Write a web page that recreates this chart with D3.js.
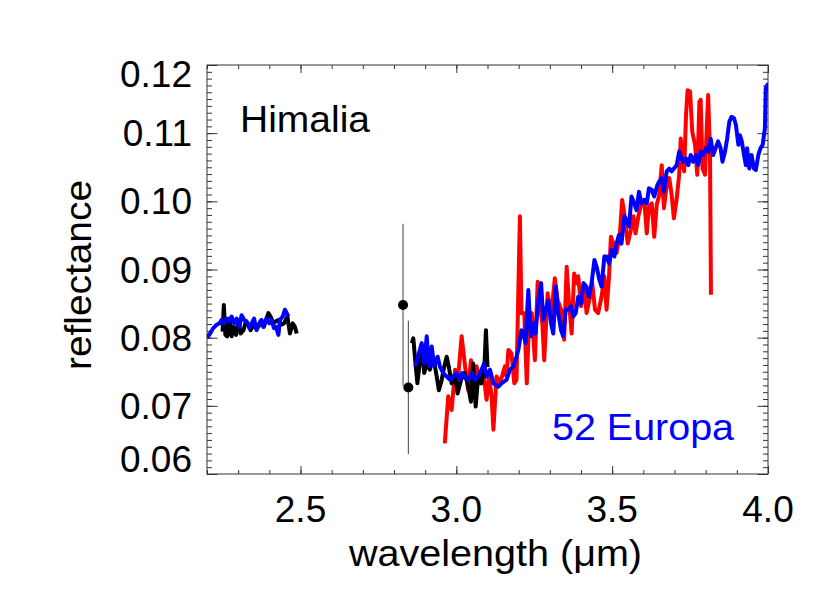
<!DOCTYPE html>
<html>
<head>
<meta charset="utf-8">
<script src="https://cdn.jsdelivr.net/npm/d3@7"></script>
<style>
  body { margin: 0; background: #fff; }
  text { font-family: "Liberation Sans", Arial, Helvetica, sans-serif; }
</style>
</head>
<body>
<svg width="830" height="606"></svg>
<script>
// Himalia, K band (black)
var himaliaK = [[2.250,0.0809],[2.254,0.0848],[2.259,0.0804],[2.265,0.0802],[2.272,0.0828],[2.279,0.0802],[2.284,0.0816],[2.293,0.0804],[2.301,0.0826],[2.308,0.0806],[2.317,0.0811],[2.325,0.0824],[2.333,0.0819],[2.340,0.0811],[2.349,0.0821],[2.357,0.0814],[2.365,0.0816],[2.372,0.0824],[2.381,0.0816],[2.389,0.0826],[2.397,0.0836],[2.404,0.0831],[2.413,0.0821],[2.421,0.0824],[2.430,0.0826],[2.438,0.0819],[2.447,0.0821],[2.458,0.0831],[2.466,0.0806],[2.475,0.0821],[2.482,0.0816],[2.488,0.0806]];

// Himalia, L band (black)
var himaliaL = [[2.857,0.0792],[2.862,0.0799],[2.869,0.0762],[2.875,0.0733],[2.881,0.0757],[2.889,0.0789],[2.897,0.0748],[2.905,0.0762],[2.915,0.0753],[2.926,0.0772],[2.937,0.0743],[2.944,0.0723],[2.953,0.0738],[2.961,0.0757],[2.969,0.0772],[2.976,0.0757],[2.985,0.0733],[2.996,0.0743],[3.004,0.0718],[3.015,0.0738],[3.026,0.0748],[3.036,0.0733],[3.047,0.0706],[3.054,0.0762],[3.062,0.0699],[3.070,0.0743],[3.081,0.0733],[3.090,0.0757],[3.095,0.0811],[3.100,0.0757]];

// Himalia photometry points: wavelength, reflectance, error
var himaliaPts = [[2.829,0.0848,0.0119],[2.846,0.0727,0.0098]];

// Himalia, second L spectrum (red)
var himaliaRed = [[2.963,0.0645],[2.974,0.0714],[2.985,0.0694],[2.996,0.0753],[3.004,0.0733],[3.017,0.0802],[3.028,0.0758],[3.038,0.0723],[3.047,0.0767],[3.054,0.0743],[3.065,0.0758],[3.076,0.0733],[3.087,0.0748],[3.097,0.0709],[3.105,0.0743],[3.113,0.0714],[3.119,0.0665],[3.129,0.0743],[3.140,0.0733],[3.156,0.0758],[3.161,0.0743],[3.167,0.0782],[3.177,0.0777],[3.186,0.0733],[3.193,0.0738],[3.204,0.0978],[3.209,0.0836],[3.218,0.0836],[3.226,0.0733],[3.233,0.0821],[3.242,0.0836],[3.252,0.0767],[3.261,0.0882],[3.268,0.0846],[3.276,0.0821],[3.282,0.0767],[3.293,0.0865],[3.304,0.0831],[3.316,0.0887],[3.325,0.0855],[3.336,0.0841],[3.346,0.0797],[3.354,0.0904],[3.361,0.0855],[3.370,0.0806],[3.378,0.0894],[3.386,0.0880],[3.391,0.0890],[3.400,0.0846],[3.411,0.0870],[3.418,0.0836],[3.429,0.0860],[3.436,0.0880],[3.445,0.0841],[3.455,0.0836],[3.466,0.0860],[3.475,0.0890],[3.482,0.0841],[3.490,0.0890],[3.496,0.0948],[3.504,0.0938],[3.514,0.0924],[3.525,0.0953],[3.532,0.1002],[3.539,0.0982],[3.550,0.0938],[3.560,0.0958],[3.568,0.0978],[3.575,0.0953],[3.584,0.0978],[3.594,0.0997],[3.603,0.1002],[3.611,0.0953],[3.618,0.0992],[3.627,0.0997],[3.635,0.0948],[3.643,0.0995],[3.651,0.1009],[3.659,0.1053],[3.666,0.0990],[3.675,0.1024],[3.683,0.1034],[3.691,0.1009],[3.698,0.0975],[3.707,0.1004],[3.715,0.1039],[3.720,0.1092],[3.726,0.1053],[3.731,0.1044],[3.737,0.1127],[3.742,0.1163],[3.750,0.1161],[3.757,0.1102],[3.766,0.1083],[3.773,0.1039],[3.780,0.1146],[3.784,0.1149],[3.790,0.1048],[3.798,0.1039],[3.803,0.1102],[3.808,0.1156],[3.814,0.1068],[3.817,0.0863]];

// 52 Europa, K band (blue)
var europaK = [[2.200,0.0800],[2.210,0.0806],[2.220,0.0814],[2.231,0.0819],[2.240,0.0821],[2.247,0.0826],[2.254,0.0821],[2.263,0.0828],[2.272,0.0824],[2.279,0.0831],[2.287,0.0821],[2.295,0.0828],[2.304,0.0816],[2.311,0.0833],[2.319,0.0826],[2.327,0.0824],[2.336,0.0814],[2.343,0.0821],[2.351,0.0828],[2.359,0.0811],[2.368,0.0821],[2.375,0.0826],[2.383,0.0816],[2.391,0.0828],[2.400,0.0821],[2.407,0.0826],[2.415,0.0814],[2.421,0.0816],[2.429,0.0804],[2.434,0.0826],[2.443,0.0831],[2.450,0.0841],[2.456,0.0836],[2.461,0.0831]];

// 52 Europa, L band (blue)
var europaL = [[2.869,0.0758],[2.883,0.0782],[2.889,0.0792],[2.897,0.0762],[2.905,0.0802],[2.912,0.0758],[2.921,0.0787],[2.929,0.0758],[2.940,0.0772],[2.947,0.0758],[2.958,0.0748],[2.969,0.0743],[2.980,0.0738],[2.990,0.0743],[3.001,0.0748],[3.012,0.0738],[3.019,0.0748],[3.028,0.0743],[3.038,0.0738],[3.051,0.0748],[3.060,0.0738],[3.070,0.0743],[3.081,0.0753],[3.089,0.0762],[3.097,0.0743],[3.108,0.0753],[3.119,0.0733],[3.135,0.0728],[3.145,0.0733],[3.161,0.0738],[3.172,0.0753],[3.183,0.0758],[3.193,0.0772],[3.199,0.0782],[3.209,0.0811],[3.215,0.0806],[3.222,0.0792],[3.231,0.0870],[3.239,0.0802],[3.247,0.0821],[3.254,0.0806],[3.263,0.0855],[3.272,0.0880],[3.279,0.0826],[3.287,0.0841],[3.295,0.0855],[3.304,0.0821],[3.311,0.0806],[3.319,0.0875],[3.327,0.0836],[3.336,0.0811],[3.343,0.0802],[3.351,0.0841],[3.359,0.0841],[3.368,0.0846],[3.375,0.0831],[3.383,0.0836],[3.391,0.0860],[3.400,0.0850],[3.408,0.0880],[3.417,0.0875],[3.425,0.0860],[3.434,0.0880],[3.443,0.0914],[3.450,0.0904],[3.459,0.0885],[3.466,0.0875],[3.475,0.0919],[3.482,0.0919],[3.490,0.0909],[3.498,0.0929],[3.507,0.0919],[3.514,0.0938],[3.522,0.0951],[3.530,0.0938],[3.539,0.0978],[3.546,0.0973],[3.554,0.0963],[3.562,0.1007],[3.571,0.0997],[3.578,0.0987],[3.586,0.1014],[3.594,0.0997],[3.603,0.1002],[3.611,0.0997],[3.618,0.1019],[3.627,0.1017],[3.635,0.1007],[3.645,0.1024],[3.651,0.1029],[3.659,0.1034],[3.666,0.1014],[3.675,0.1044],[3.683,0.1048],[3.691,0.1044],[3.698,0.1048],[3.707,0.1053],[3.715,0.1073],[3.723,0.1063],[3.728,0.1058],[3.737,0.1063],[3.744,0.1053],[3.752,0.1068],[3.760,0.1058],[3.769,0.1068],[3.776,0.1053],[3.784,0.1073],[3.792,0.1068],[3.801,0.1078],[3.808,0.1073],[3.816,0.1092],[3.824,0.1068],[3.832,0.1078],[3.840,0.1088],[3.848,0.1078],[3.854,0.1058],[3.862,0.1073],[3.869,0.1092],[3.876,0.1117],[3.883,0.1124],[3.891,0.1122],[3.897,0.1112],[3.905,0.1083],[3.910,0.1097],[3.916,0.1088],[3.923,0.1068],[3.929,0.1053],[3.933,0.1078],[3.940,0.1048],[3.947,0.1068],[3.955,0.1048],[3.961,0.1046],[3.969,0.1068],[3.976,0.1078],[3.983,0.1083],[3.987,0.1097],[3.990,0.1107],[3.993,0.1166],[3.998,0.1171],[4.000,0.1161]];

var xMajor = [2.5, 3.0, 3.5, 4.0],
    xLabels = ["2.5", "3.0", "3.5", "4.0"],
    yMajor = [0.06, 0.07, 0.08, 0.09, 0.10, 0.11, 0.12],
    yLabels = ["0.06", "0.07", "0.08", "0.09", "0.10", "0.11", "0.12"];

var svg = d3.select("svg"),
    margin = {top: 65, right: 62, bottom: 132, left: 207},
    width = svg.attr("width") - margin.left - margin.right,
    height = svg.attr("height") - margin.top - margin.bottom,
    g = svg.append("g").attr("transform", "translate(" + margin.left + "," + margin.top + ")");

var x = d3.scaleLinear().domain([2.2, 4.0]).range([0, width]),
    y = d3.scaleLinear().domain([0.06, 0.12]).range([height, 0]);

var xMinor = d3.range(22, 41).map(function(d) { return d / 10; }),
    yMinor = d3.range(60, 121).map(function(d) { return d / 1000; });

var line = d3.line()
    .x(function(d) { return x(d[0]); })
    .y(function(d) { return y(d[1]); });

svg.append("defs").append("clipPath").attr("id", "clip")
  .append("rect").attr("width", width).attr("height", height);

var fs = "37px";

// tick marks on all four sides, pointing inward
function ticks(axis, vals, size, tr) {
  var a = g.append("g")
    .attr("transform", tr)
    .call(axis.tickValues(vals).tickSize(size).tickSizeOuter(0).tickFormat(""));
  a.select(".domain").remove();
  a.selectAll("line").attr("stroke", "#333");
  return a;
}
ticks(d3.axisBottom(x), xMinor, -4, "translate(0," + height + ")");
ticks(d3.axisBottom(x), xMajor, -8, "translate(0," + height + ")");
ticks(d3.axisTop(x), xMinor, -4, "translate(0,0)");
ticks(d3.axisTop(x), xMajor, -8, "translate(0,0)");
ticks(d3.axisLeft(y), yMinor, -5, "translate(0,0)");
ticks(d3.axisLeft(y), yMajor, -10.5, "translate(0,0)");
ticks(d3.axisRight(y), yMinor, -5, "translate(" + width + ",0)");
ticks(d3.axisRight(y), yMajor, -10.5, "translate(" + width + ",0)");

g.append("rect")
    .attr("width", width)
    .attr("height", height)
    .attr("fill", "none")
    .attr("stroke", "#333")
    .attr("stroke-width", 1);

// tick labels
g.selectAll(".xl")
  .data(xMajor)
  .enter().append("text")
    .attr("x", function(d) { return x(d); })
    .attr("y", height + 48)
    .attr("text-anchor", "middle")
    .style("font-size", fs)
    .text(function(d, i) { return xLabels[i]; });

g.selectAll(".yl")
  .data(yMajor)
  .enter().append("text")
    .attr("x", -15)
    .attr("y", function(d, i) {
      var off = 13;
      if (i == 0) off = -2;
      if (i == yMajor.length - 1) off = 22;
      return y(d) + off;
    })
    .attr("text-anchor", "end")
    .style("font-size", fs)
    .text(function(d, i) { return yLabels[i]; });

// axis titles
svg.append("text")
    .attr("x", 349)
    .attr("y", 566)
    .attr("textLength", 293)
    .attr("lengthAdjust", "spacingAndGlyphs")
    .style("font-size", fs)
    .text("wavelength (\u03bcm)");

svg.append("text")
    .attr("transform", "translate(91,370) rotate(-90)")
    .attr("textLength", 190)
    .attr("lengthAdjust", "spacingAndGlyphs")
    .style("font-size", fs)
    .text("reflectance");

// spectra
var plot = g.append("g").attr("clip-path", "url(#clip)");

plot.append("path")
    .datum(himaliaRed)
    .attr("fill", "none")
    .attr("stroke", "#ff0000")
    .attr("stroke-width", 4)
    .attr("stroke-linejoin", "round")
    .attr("d", line);

[himaliaK, himaliaL].forEach(function(s) {
  plot.append("path")
      .datum(s)
      .attr("fill", "none")
      .attr("stroke", "#000")
      .attr("stroke-width", 4)
      .attr("stroke-linejoin", "round")
      .attr("d", line);
});

[europaK, europaL].forEach(function(s) {
  plot.append("path")
      .datum(s)
      .attr("fill", "none")
      .attr("stroke", "#0000ff")
      .attr("stroke-width", 4)
      .attr("stroke-linejoin", "round")
      .attr("d", line);
});

// photometry with error bars
plot.selectAll(".err")
  .data(himaliaPts)
  .enter().append("line")
    .attr("x1", function(d) { return x(d[0]); })
    .attr("x2", function(d) { return x(d[0]); })
    .attr("y1", function(d) { return y(d[1] - d[2]); })
    .attr("y2", function(d) { return y(d[1] + d[2]); })
    .attr("stroke", "#444")
    .attr("stroke-width", 1);

plot.selectAll(".pt")
  .data(himaliaPts)
  .enter().append("circle")
    .attr("cx", function(d) { return x(d[0]); })
    .attr("cy", function(d) { return y(d[1]); })
    .attr("r", 5)
    .attr("fill", "#000");

// labels inside the plot
g.append("text")
    .attr("x", 33)
    .attr("y", 67)
    .attr("textLength", 130)
    .attr("lengthAdjust", "spacingAndGlyphs")
    .style("font-size", fs)
    .text("Himalia");

g.append("text")
    .attr("x", 345)
    .attr("y", 375)
    .attr("fill", "#0000ff")
    .attr("textLength", 182)
    .attr("lengthAdjust", "spacingAndGlyphs")
    .style("font-size", fs)
    .text("52 Europa");
</script>
</body>
</html>
